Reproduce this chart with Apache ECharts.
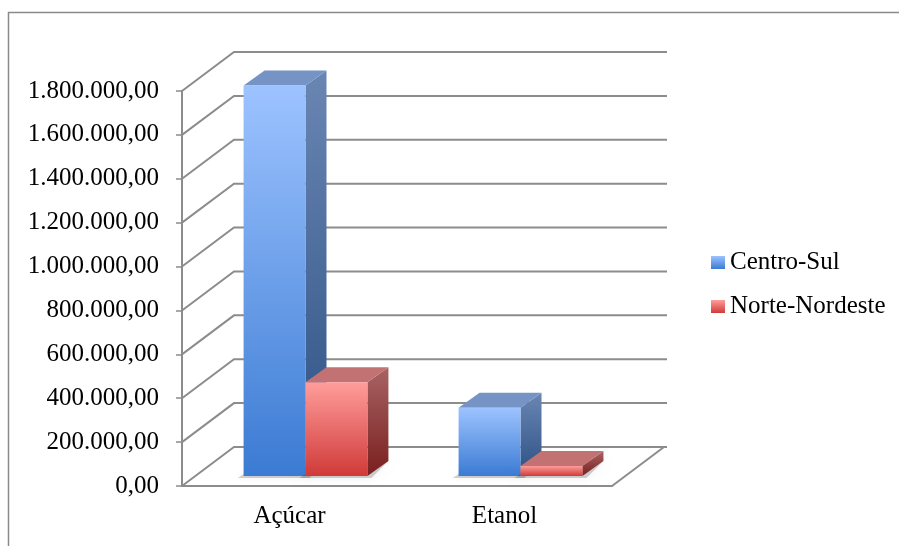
<!DOCTYPE html>
<html>
<head>
<meta charset="utf-8">
<script src="https://cdn.jsdelivr.net/npm/echarts@6/dist/echarts.min.js"></script>
<style>
  html, body { margin: 0; padding: 0; background: #fff; }
  #chart { width: 899px; height: 546px; }
</style>
</head>
<body>
<div id="chart"></div>
<script>
var categories = ['Açúcar', 'Etanol'];
var centroSul = [1780000, 311000];
var norteNordeste = [427000, 46000];
var yTicks = [0, 200000, 400000, 600000, 800000, 1000000, 1200000, 1400000, 1600000, 1800000];

// oblique 3D offsets (px)
var WALL_DX = 52, WALL_DY = -39;
var SHIFT_X = 16, SHIFT_Y = -10;
var DEPTH_X = 21, DEPTH_Y = -15;
var BAR_RATIO = 0.288;
var FONT = '"Liberation Serif", "Times New Roman", serif';
var LINE = '#8c8c8c';

function fmt(v) {
  var s = String(Math.round(v));
  return s.replace(/\B(?=(\d{3})+(?!\d))/g, '.') + ',00';
}

function grad(c1, c2) {
  return { type: 'linear', x: 0, y: 0, x2: 0, y2: 1,
    colorStops: [{ offset: 0, color: c1 }, { offset: 1, color: c2 }] };
}

var pal = [
  { front: ['#9dc3ff', '#3b7bd3'], side: ['#6a86b3', '#2c5184'], top: '#7593c4' },
  { front: ['#ff9d9b', '#d03a38'], side: ['#a86363', '#7a1f1f'], top: '#c27272' }
];

function barItem(idx) {
  var c = pal[idx];
  return function (params, api) {
    var cat = api.value(0), val = api.value(1);
    var base = api.coord([cat, 0]);
    var top = api.coord([cat, val]);
    var bw = api.size([1, 0])[0] * BAR_RATIO;
    var cx = base[0] + SHIFT_X;
    var x0 = idx === 0 ? cx - bw : cx;
    var x1 = x0 + bw;
    var yb = base[1] + SHIFT_Y, yt = top[1] + SHIFT_Y;
    return {
      type: 'group',
      children: [
        { type: 'polygon', shape: { points: [[x0 - 6, yb + 2], [x1 + 4, yb + 2], [x1 + DEPTH_X, yb + DEPTH_Y], [x0 + DEPTH_X, yb + DEPTH_Y]] },
          style: { fill: 'rgba(0,0,0,0.18)', shadowBlur: 8, shadowColor: 'rgba(0,0,0,0.3)' }, z2: 0 },
        { type: 'polygon', shape: { points: [[x1, yt], [x1 + DEPTH_X, yt + DEPTH_Y], [x1 + DEPTH_X, yb + DEPTH_Y], [x1, yb]] },
          style: { fill: grad(c.side[0], c.side[1]) }, z2: 1 },
        { type: 'polygon', shape: { points: [[x0, yt], [x0 + DEPTH_X, yt + DEPTH_Y], [x1 + DEPTH_X, yt + DEPTH_Y], [x1, yt]] },
          style: { fill: c.top }, z2: 1 },
        { type: 'rect', shape: { x: x0, y: yt, width: bw, height: yb - yt },
          style: { fill: grad(c.front[0], c.front[1]) }, z2: 2 }
      ]
    };
  };
}

function wallItem(params, api) {
  var cs = params.coordSys;
  var v = api.value(1);
  var y = api.coord([0, v])[1];
  var xl = cs.x, xr = cs.x + cs.width;
  var kids = [
    { type: 'polyline', shape: { points: [[xl, y], [xl + WALL_DX, y + WALL_DY], [xr + WALL_DX + 3, y + WALL_DY]] },
      style: { stroke: LINE, lineWidth: 2, fill: null } }
  ];
  if (v === 0) {
    kids.push({ type: 'polyline', shape: { points: [[xr, y], [xr + WALL_DX, y + WALL_DY]] },
      style: { stroke: LINE, lineWidth: 2, fill: null } });
  }
  return { type: 'group', children: kids };
}

var chart = echarts.init(document.getElementById('chart'));
var option = {
  animation: false,
  graphic: [{
    type: 'rect', shape: { x: 8.5, y: 12.5, width: 1000, height: 1000 },
    style: { fill: null, stroke: '#8a8a8a', lineWidth: 1.5 }, z: -10
  }],
  grid: { left: 182, right: 287, top: 91, bottom: 60 },
  legend: {
    orient: 'vertical', left: 711, top: 250, itemGap: 19, padding: 0,
    itemWidth: 14, itemHeight: 13, icon: 'rect',
    textStyle: { fontFamily: FONT, fontSize: 25, color: '#000' },
    data: [
      { name: 'Centro-Sul', itemStyle: { color: grad(pal[0].front[0], pal[0].front[1]) } },
      { name: 'Norte-Nordeste', itemStyle: { color: grad(pal[1].front[0], pal[1].front[1]) } }
    ]
  },
  xAxis: {
    type: 'category', data: categories, boundaryGap: true,
    axisLine: { lineStyle: { color: LINE, width: 2 } },
    axisTick: { length: 7, lineStyle: { color: LINE, width: 1.5 } },
    axisLabel: { fontFamily: FONT, fontSize: 25, color: '#000', margin: 18 }
  },
  yAxis: {
    type: 'value', min: 0, max: 1800000, interval: 200000,
    axisLine: { show: true, lineStyle: { color: LINE, width: 2 } },
    axisTick: { show: true, length: 6, lineStyle: { color: LINE, width: 1.5 } },
    splitLine: { show: false },
    axisLabel: { fontFamily: FONT, fontSize: 25, color: '#000', margin: 23, formatter: fmt }
  },
  series: [
    { type: 'custom', name: 'walls', renderItem: wallItem, silent: true, z: 1,
      encode: { x: 0, y: 1 }, data: yTicks.map(function (v) { return [0, v]; }) },
    { type: 'custom', name: 'Centro-Sul', renderItem: barItem(0), z: 3,
      itemStyle: { color: pal[0].front[1] },
      encode: { x: 0, y: 1 }, data: centroSul.map(function (v, i) { return [i, v]; }) },
    { type: 'custom', name: 'Norte-Nordeste', renderItem: barItem(1), z: 4,
      itemStyle: { color: pal[1].front[1] },
      encode: { x: 0, y: 1 }, data: norteNordeste.map(function (v, i) { return [i, v]; }) }
  ]
};
chart.setOption(option);
</script>
</body>
</html>
